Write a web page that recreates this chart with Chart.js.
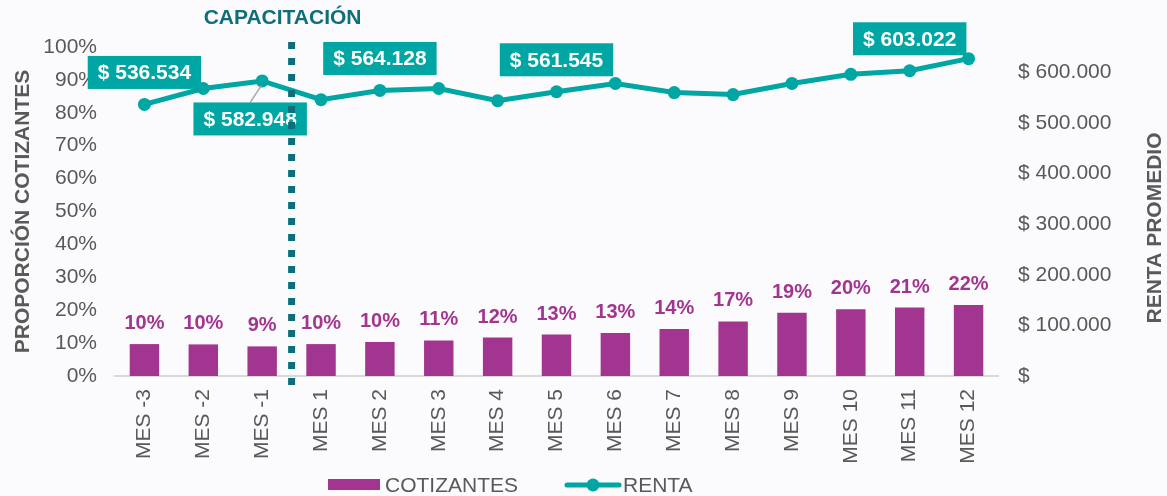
<!DOCTYPE html>
<html lang="es">
<head>
<meta charset="UTF-8">
<title>Cotizantes y renta promedio</title>
<script src="https://cdn.jsdelivr.net/npm/chart.js@4.4.0/dist/chart.umd.min.js"></script>
<style>
  * { margin: 0; padding: 0; box-sizing: border-box; }
  body { background: #fbfafd; }
  .wrap { width: 1167px; height: 496px; }
</style>
</head>
<body>
<div class="wrap"><canvas id="chart" width="1167" height="496"></canvas></div>
<script>
// datos
const categories = ['MES -3', 'MES -2', 'MES -1', 'MES 1', 'MES 2', 'MES 3', 'MES 4', 'MES 5',
  'MES 6', 'MES 7', 'MES 8', 'MES 9', 'MES 10', 'MES 11', 'MES 12'];
const cotizantes = [0.097, 0.096, 0.090, 0.097, 0.103, 0.108, 0.117, 0.126,
  0.131, 0.143, 0.166, 0.192, 0.203, 0.208, 0.216];
const renta = [536534, 568000, 582948, 546000, 564128, 568000, 544000, 561545,
  578000, 560000, 556000, 578000, 596000, 603022, 627000];
const rentaTicks = [0, 100000, 200000, 300000, 400000, 500000, 600000];
const rentaEtiquetas = [0, 2, 4, 7, 13];   // puntos con etiqueta
const inicioCapacitacion = 2;              // linea entre MES -1 y MES 1

const PURPLE = '#a2358f';
const TEAL = '#00a6a3';
const DARK_TEAL = '#0e6f7b';
const GRAY = '#595959';
const FONT = '"Liberation Sans", Arial, sans-serif';

function money(v) {
  if (v === 0) return '$';
  return '$ ' + String(Math.round(v)).replace(/\B(?=(\d{3})+(?!\d))/g, '.');
}

const decor = {
  id: 'decor',
  beforeDraw(chart) {
    const ctx = chart.ctx;
    ctx.save();
    ctx.fillStyle = '#fbfafd';
    ctx.fillRect(0, 0, chart.width, chart.height);
    ctx.restore();
  },
  afterDatasetsDraw(chart) {
    const ctx = chart.ctx;
    ctx.save();

    // etiquetas de las barras
    const bars = chart.getDatasetMeta(0).data;
    ctx.font = 'bold 20px ' + FONT;
    ctx.fillStyle = PURPLE;
    ctx.textAlign = 'center';
    ctx.textBaseline = 'alphabetic';
    bars.forEach((b, i) => ctx.fillText(Math.round(cotizantes[i] * 100) + '%', b.x, b.y - 15));

    // etiquetas de renta
    const pts = chart.getDatasetMeta(1).data;
    ctx.font = 'bold 21px ' + FONT;
    rentaEtiquetas.forEach(i => {
      const p = pts[i];
      const below = i === 2;
      const cx = p.x + (below ? -12 : 0);
      const cy = p.y + (below ? 38 : -32);
      const txt = money(renta[i]);
      const w = ctx.measureText(txt).width + 20;
      const h = 33;
      if (below) {
        ctx.strokeStyle = '#a6a6a6';
        ctx.lineWidth = 1.5;
        ctx.beginPath();
        ctx.moveTo(p.x - 1, p.y + 5);
        ctx.lineTo(cx, cy - h / 2);
        ctx.stroke();
      }
      ctx.fillStyle = TEAL;
      ctx.fillRect(cx - w / 2, cy - h / 2, w, h);
      ctx.fillStyle = '#ffffff';
      ctx.textBaseline = 'middle';
      ctx.fillText(txt, cx, cy + 1);
    });

    // linea punteada de capacitacion
    const xs = chart.scales.x;
    const lx = (xs.getPixelForValue(inicioCapacitacion) + xs.getPixelForValue(inicioCapacitacion + 1)) / 2;
    ctx.strokeStyle = DARK_TEAL;
    ctx.lineWidth = 7;
    ctx.setLineDash([7, 9]);
    ctx.beginPath();
    ctx.moveTo(lx, 42);
    ctx.lineTo(lx, 387);
    ctx.stroke();
    ctx.setLineDash([]);

    ctx.font = 'bold 21px ' + FONT;
    ctx.fillStyle = DARK_TEAL;
    ctx.textAlign = 'center';
    ctx.textBaseline = 'middle';
    ctx.fillText('CAPACITACIÓN', lx - 9, 18);

    // titulo eje derecho
    ctx.save();
    ctx.translate(1155, 228);
    ctx.rotate(-Math.PI / 2);
    ctx.font = 'bold 21px ' + FONT;
    ctx.fillStyle = GRAY;
    ctx.fillText('RENTA PROMEDIO', 0, 0);
    ctx.restore();

    // leyenda
    const ly = 485;
    ctx.fillStyle = PURPLE;
    ctx.fillRect(328, ly - 6, 52, 11);
    ctx.font = '21px ' + FONT;
    ctx.fillStyle = GRAY;
    ctx.textAlign = 'left';
    ctx.fillText('COTIZANTES', 385, ly + 1);
    ctx.strokeStyle = TEAL;
    ctx.lineWidth = 5;
    ctx.lineCap = 'round';
    ctx.beginPath();
    ctx.moveTo(567, ly);
    ctx.lineTo(619, ly);
    ctx.stroke();
    ctx.fillStyle = TEAL;
    ctx.beginPath();
    ctx.arc(593, ly, 6.5, 0, Math.PI * 2);
    ctx.fill();
    ctx.fillStyle = GRAY;
    ctx.fillText('RENTA', 623, ly + 1);

    ctx.restore();
  }
};

new Chart(document.getElementById('chart'), {
  data: {
    labels: categories,
    datasets: [
      {
        type: 'bar',
        label: 'COTIZANTES',
        data: cotizantes,
        backgroundColor: PURPLE,
        yAxisID: 'y',
        barPercentage: 0.5,
        categoryPercentage: 1,
        order: 2
      },
      {
        type: 'line',
        label: 'RENTA',
        data: renta,
        borderColor: TEAL,
        backgroundColor: TEAL,
        borderWidth: 5,
        pointRadius: 6.5,
        pointBorderWidth: 0,
        pointBackgroundColor: TEAL,
        tension: 0,
        yAxisID: 'y1',
        order: 1
      }
    ]
  },
  options: {
    responsive: false,
    animation: false,
    events: [],
    layout: { padding: { top: 47, left: 0, right: 0, bottom: 0 } },
    plugins: {
      legend: { display: false },
      tooltip: { enabled: false }
    },
    scales: {
      x: {
        grid: { display: false, drawTicks: false },
        border: { display: true, color: '#d9d9d9', width: 2 },
        ticks: {
          color: GRAY,
          font: { size: 21, family: FONT },
          maxRotation: 90,
          minRotation: 90,
          autoSkip: false,
          padding: 13
        },
        afterFit(s) { s.height = 120; }
      },
      y: {
        position: 'left',
        min: 0,
        max: 1,
        grid: { display: false, drawTicks: false },
        border: { display: false },
        ticks: {
          stepSize: 0.1,
          color: GRAY,
          font: { size: 21, family: FONT },
          padding: 18,
          callback: v => Math.round(v * 100) + '%'
        },
        title: {
          display: true,
          text: 'PROPORCIÓN COTIZANTES',
          color: GRAY,
          font: { size: 21, weight: 'bold', family: FONT },
          padding: { top: 11, bottom: 0 }
        },
        afterFit(s) { s.width = 115; }
      },
      y1: {
        position: 'right',
        min: 0,
        max: 650000,
        grid: { display: false, drawTicks: false },
        border: { display: false },
        afterBuildTicks(s) { s.ticks = rentaTicks.map(v => ({ value: v })); },
        ticks: {
          color: GRAY,
          font: { size: 21, family: FONT },
          padding: 20,
          callback: v => money(v)
        },
        afterFit(s) { s.width = 169; }
      }
    }
  },
  plugins: [decor]
});
</script>
</body>
</html>
